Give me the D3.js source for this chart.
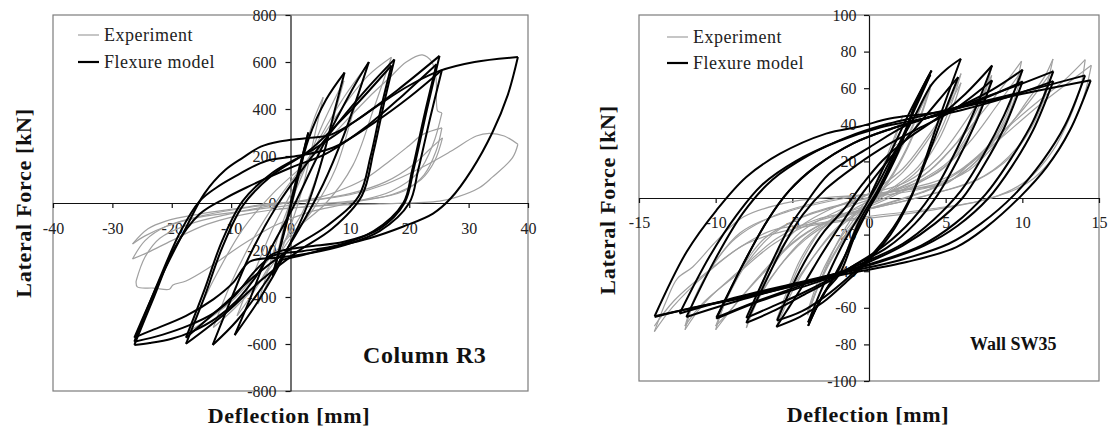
<!DOCTYPE html>
<html><head><meta charset="utf-8">
<script src="https://cdn.jsdelivr.net/npm/d3@7"></script>
<style>html,body{margin:0;padding:0;background:#fff;} svg{display:block;}</style>
</head><body>
<svg id="chart" width="1109" height="427"></svg>
<script>
// ---------------- DATA ----------------
// Column R3 : tick values
const r3XTicks = [-40,-30,-20,-10,0,10,20,30,40];
const r3YTicks = [-800,-600,-400,-200,0,200,400,600,800];
// Column R3 : flexure model branches [deflection mm, force kN]
const r3Model = [
  [[0,0],[1.5,150],[3,300]],
  [[3,300],[1.5,140],[0,-10],[-1.5,-160],[-3,-310]],
  [[-3,-310],[-1,-120],[1,80],[3,270],[6,440],[9.1,555]],
  [[9.1,555],[7.5,400],[5.5,200],[3,0],[-1,-220],[-5,-400],[-9.4,-562]],
  [[-9.4,-562],[-7,-420],[-4,-230],[0.4,-20],[4,170],[8,370],[11,510],[13.2,600]],
  [[13.2,600],[11.5,470],[9,290],[5.5,80],[1,-130],[-4,-330],[-9,-500],[-13.1,-604]],
  [[-13.1,-604],[-10.5,-440],[-7,-230],[-2.5,-20],[2.5,160],[8,340],[13,490],[17.5,611]],
  [[17.5,611],[15.8,430],[14,220],[12,30],[7,-110],[1,-210],[-5,-330],[-11,-470],[-17.6,-599]],
  [[-17.6,-599],[-14.5,-400],[-11.5,-190],[-8,-10],[-3,120],[3,220],[10,390],[17,585]],
  [[17,585],[15.3,410],[13.5,200],[11.5,30],[6,-100],[0,-195],[-6,-310],[-12,-450],[-17.6,-573]],
  [[-17.6,-573],[-14.5,-370],[-11.5,-160],[-8,10],[-3,130],[4,230],[11,350],[18,480],[25.1,626]],
  [[25.1,626],[23,400],[20.8,150],[19.2,0],[15,-110],[9,-165],[3,-185],[-1,-200],[-3.5,-225],[-6,-320],[-9.1,-417],[-12.5,-490],[-16.4,-545],[-20,-578],[-23.7,-596],[-26.3,-604]],
  [[-26.3,-604],[-23,-400],[-19.5,-190],[-15.3,-47],[-11,20],[-7.5,65],[0,150],[6,210],[13,330],[19,460],[24.6,590]],
  [[24.6,590],[22.6,380],[20.5,140],[19,0],[14,-120],[8,-180],[2,-205],[-3,-225],[-6,-290],[-9.4,-395],[-13,-470],[-17,-520],[-21.5,-560],[-26.3,-590]],
  [[-26.3,-590],[-22.5,-350],[-18.5,-120],[-15.3,8],[-12.5,65],[-9.7,108],[-4.1,179],[1,200],[7.1,235],[14,340],[20,450],[25.5,566]],
  [[25.5,566],[23.5,360],[21.5,140],[20,0],[15,-120],[9,-180],[3,-215],[-2,-232],[-6.9,-250],[-9.7,-340],[-13,-410],[-17.6,-480],[-23.7,-545],[-26.3,-573]],
  [[-26.3,-573],[-21.5,-300],[-17.5,-100],[-14.5,40],[-11,140],[-8,193],[-5,240],[-1.85,262],[2.6,276],[6.7,290],[11,350],[15,420],[20,500],[25.1,562],[31,600],[38.3,621]],
  [[38.3,621],[36.6,460],[34,300],[30.5,140],[27,20],[24,-45],[19,-100],[13.3,-150],[6,-195],[1,-228],[-1.85,-244]]
];
// Column R3 : experiment branches
const r3Test = [
  [[0,0],[1.5,160],[3,290]],
  [[3,290],[1.5,120],[0,-30],[-1.5,-160],[-3,-300]],
  [[-3,-300],[-1.5,-140],[0,10],[2,200],[4,360],[5.5,450]],
  [[5.5,450],[4,280],[2,60],[0,-100],[-2.5,-260],[-5.5,-430]],
  [[-5.5,-430],[-3.5,-260],[-1,-60],[2,120],[5.5,340],[9,520]],
  [[9,520],[7,340],[4.5,120],[2,-40],[-2,-200],[-6,-370],[-9,-480]],
  [[-9,-480],[-6.5,-320],[-3,-110],[0.5,60],[5,280],[9,450],[13,590]],
  [[13,590],[10.5,380],[7.5,140],[4,-20],[0,-150],[-5,-330],[-9.5,-450],[-13,-530]],
  [[-13,-530],[-10,-340],[-6,-140],[-2,20],[3,190],[8,380],[13,540],[17,620]],
  [[17,620],[14,400],[10.5,160],[6,0],[1,-110],[-4,-250],[-10,-420],[-17,-545]],
  [[-17,-545],[-13,-330],[-8,-110],[-3,40],[3,180],[9,340],[14,470],[16.7,533],[19.5,600],[22.2,630],[23.8,600],[24.5,533],[24.6,420],[24.8,391],[25.5,384]],
  [[25.5,384],[24,250],[21.5,130],[17,50],[10,0],[3,-40],[-3,-100],[-7,-160],[-9.7,-204],[-14,-280],[-17.6,-332],[-19.8,-349],[-20.4,-367],[-23,-362],[-25.8,-357],[-26,-332]],
  [[-26,-332],[-24.5,-230],[-22,-150],[-17,-90],[-10,-45],[-2,-5],[5,25],[9.4,65],[13,110],[16.7,179],[20,245],[22.3,292],[25.5,320]],
  [[25.5,320],[24.5,220],[22.5,120],[19,50],[12,10],[3,-15],[-6,-40],[-14,-90],[-20,-160],[-24,-210],[-26.6,-238]],
  [[-26.6,-238],[-24.5,-160],[-21,-100],[-15,-55],[-6,-15],[3,10],[10,40],[16,90],[20.5,160],[23.5,230],[25.6,277]],
  [[25.6,277],[24.3,180],[22,100],[17,35],[9,5],[0,-10],[-8,-35],[-15.3,-60],[-21,-100],[-24.5,-140],[-26.6,-174]],
  [[-26.6,-174],[-24,-110],[-21,-77],[-15.3,-47],[-8,-20],[-4.1,-4],[3,10],[10,35],[16,80],[22,150],[27,220],[31.3,285],[33.5,296],[36,285],[38.3,250]],
  [[38.3,250],[37.4,193],[34,110],[31.8,65],[28,25],[25.1,8],[15,-4],[5,-12],[-2,-25]]
];

// Wall SW35 : tick values
const swXTicks = [-15,-10,-5,0,5,10,15];
const swYTicks = [-100,-80,-60,-40,-20,0,20,40,60,80,100];
// Wall SW35 : flexure model branches
const swModel = [
  [[0,0],[0.8,14],[1.7,30],[2.6,46],[3.4,59],[4.08,69.7]],
  [[4.08,69.7],[3.1,53.3],[2,27.8],[0.7,6],[-0.6,-12.2],[-1.9,-38],[-2.8,-50.4],[-3.4,-59.5],[-3.97,-69.9]],
  [[-3.97,-69.9],[-3.2,-55.9],[-2.3,-43.1],[-1.5,-30.4],[-0.4,-12],[0.8,8],[1.9,28],[2.9,47],[3.5,58],[4.0,67.5]],
  [[4.0,67.5],[3.0,50],[1.9,25],[0.6,3],[-0.7,-16],[-1.9,-41.3],[-2.8,-50.4],[-3.4,-59.5],[-3.97,-68]],
  [[-3.97,-68],[-3.2,-52],[-2.4,-37],[-1.5,-22],[-0.5,-8],[0.6,8],[1.8,27],[3,45],[4.08,62],[5,70],[5.99,76.1]],
  [[5.99,76.1],[4.6,44],[3.5,17],[2.66,-1.3],[1.4,-20],[0,-34],[-1.5,-46],[-3,-57],[-4.5,-65],[-6.04,-70.4]],
  [[-6.04,-70.4],[-5.2,-59.5],[-4.1,-44.9],[-3.2,-32.2],[-1.8,-14],[-0.3,4],[1.2,20],[2.6,34],[3.8,46],[4.8,56],[5.82,66.1]],
  [[5.82,66.1],[4.7,42],[3.7,20],[2.8,2],[1.6,-16],[0.2,-31],[-1.3,-43],[-2.9,-54],[-4.4,-62],[-6,-67]],
  [[-6,-67],[-5,-48],[-4,-32],[-2.9,-18],[-1.7,-6.8],[-0.4,7.8],[0.9,20.6],[2.66,33.3],[4.5,44],[6.3,57],[8.03,72.4]],
  [[8.03,72.4],[7,50],[5.8,28],[4.4,6],[2.8,-12],[1,-26],[-1,-37],[-2.5,-45],[-4.5,-54],[-6.3,-62],[-8,-68.2]],
  [[-8,-68.2],[-6.7,-45],[-5.5,-25],[-4.3,-9],[-2.8,5],[-0.8,18],[1.2,29],[3,37],[5.5,48],[8.03,64.3]],
  [[8.03,64.3],[7,42],[5.8,21],[4.5,2],[3,-14],[1.2,-27],[-1,-37],[-2.7,-45],[-4.6,-53],[-6.5,-60],[-8,-65.5]],
  [[-8,-65.5],[-6.5,-38],[-5.2,-16],[-4.3,-5],[-2.6,13.3],[0.05,27.8],[2.66,40.6],[5,47],[8,59],[10.02,70.1]],
  [[10.02,70.1],[8.8,45],[7.5,24],[6,4],[4.2,-12],[2.2,-25],[0,-34],[-2,-41],[-4.5,-48],[-7.5,-57],[-9.95,-65.3]],
  [[-9.95,-65.3],[-8.2,-36],[-6.6,-12],[-5.2,4],[-3.5,17],[-1,30],[1.5,38],[3.5,43],[6.5,51],[10.02,63.7]],
  [[10.02,63.7],[8.8,38],[7.5,18],[6.1,0],[4.3,-14],[2.2,-26],[0,-35],[-2,-42],[-4.5,-49],[-7.5,-57.5],[-9.95,-65.9]],
  [[-9.95,-65.9],[-8.2,-36],[-6.6,-12],[-5.2,4],[-3.5,17],[-1,30],[1.5,38],[3.5,43],[6.5,52],[9.5,61],[12.02,69.2]],
  [[12.02,69.2],[10.7,42],[9.3,22],[7.6,2],[5.6,-14],[3.4,-26],[0.5,-35],[-2,-41],[-5,-47],[-8.5,-54],[-12.35,-63.1]],
  [[-12.35,-63.1],[-10.4,-32],[-8.6,-9],[-7,7],[-4.8,20],[-2,31],[0.5,38],[2.7,42],[6,48],[9,55],[12.02,63.9]],
  [[12.02,63.9],[10.7,37],[9.3,17],[7.8,0],[5.8,-15],[3.6,-26],[0.7,-35],[-2,-41],[-5,-48],[-8.5,-56],[-11.91,-65]],
  [[-11.91,-65],[-10,-33],[-8.2,-8],[-6.3,10],[-4,23],[-1.5,33],[1,40],[3,44],[6,50],[10,58],[14.09,67]],
  [[14.09,67],[12.8,40],[11.3,20],[9.5,2],[7.3,-14],[5.2,-25],[2,-34],[-2,-41.5],[-5.5,-48.5],[-9,-55.5],[-12,-61],[-13.98,-64.6]],
  [[-13.98,-64.6],[-11.9,-29.5],[-9.95,-6.7],[-8,11.5],[-5.8,24.2],[-2.8,35.2],[-0.6,39.1],[1.36,43.4],[4.6,47],[8.97,55.1],[14.46,64.3]],
  [[14.46,64.3],[13.1,37],[11.6,17],[9.84,0.5],[7.67,-15.8],[5.7,-26.8],[2.45,-35],[-1.9,-42.2],[-5.2,-48.6],[-8.4,-54.9],[-11.7,-60.4],[-13.98,-65]]
];
// Wall SW35 : experiment branches
const swTest = [
  [[0,0],[0.8,15],[1.5,30],[2.2,45]],
  [[2.2,45],[1.6,30],[0.9,12],[0,-3],[-0.8,-17],[-1.5,-31],[-2.2,-45]],
  [[-2.2,-45],[-1.5,-30],[-0.7,-12],[0,0],[0.8,15],[1.6,28],[2.4,32],[3.3,48],[4,62]],
  [[4,62],[3.4,46],[2.5,28],[1.3,10],[0,-4],[-1.2,-16],[-2.4,-32],[-3.3,-48],[-4,-64]],
  [[-4,-64],[-3.3,-48],[-2.4,-30],[-1.2,-12],[0,0],[1.2,14],[2.4,32],[3.3,48],[4,60]],
  [[4,60],[3.4,45],[2.5,27],[1.3,9],[0,-5],[-1.2,-17],[-2.4,-33],[-3.3,-48],[-4,-62]],
  [[-4,-62],[-3.3,-45],[-2.3,-28],[-1,-12],[0.5,2],[2.2,14],[3.7,30],[5,48],[6,68]],
  [[6,68],[5.4,52],[4.5,34],[3.2,17],[1.3,4],[-0.5,-6],[-2.2,-17],[-3.7,-33],[-5,-51],[-6,-70]],
  [[-6,-70],[-5.3,-52],[-4.3,-33],[-3,-16],[-1.3,-4],[0.5,5],[2.2,16],[3.7,32],[5,48],[6,63]],
  [[6,63],[5.4,48],[4.5,31],[3.2,15],[1.3,3],[-0.5,-7],[-2.2,-18],[-3.7,-33],[-5,-49],[-6,-66]],
  [[-6,-66],[-5.3,-50],[-4.5,-34],[-3.2,-18],[-1,-6],[1.5,4],[3.5,12],[5.3,26],[6.8,44],[7.5,57],[8,72]],
  [[8,72],[7.5,55],[6.6,37],[5.2,20],[3,8],[0.5,-2],[-2,-10],[-4.2,-22],[-5.9,-38],[-7.2,-55],[-8,-71]],
  [[-8,-71],[-7.3,-53],[-6.2,-33],[-4.7,-17],[-2.5,-6],[0,2],[2.5,9],[4.5,22],[6.3,42],[7.3,55],[8,67]],
  [[8,67],[7.5,52],[6.6,35],[5.2,19],[3,7],[0.5,-3],[-2,-11],[-4.2,-23],[-5.9,-38],[-7.2,-54],[-8,-68]],
  [[-8,-68],[-7.2,-52],[-6,-34],[-4.5,-19],[-2,-7],[1,2],[3.5,12],[5.5,28],[7.5,48],[9,64],[9.95,74.8]],
  [[9.95,74.8],[9.6,62],[9,46],[7.8,28],[6,13],[3.5,3],[0,-6],[-3,-14],[-5,-25],[-7,-42],[-8.7,-58],[-10,-72]],
  [[-10,-72],[-9.3,-55],[-8.2,-37],[-6.8,-22],[-4.5,-11],[-1,-2],[2,5],[4.5,14],[6.5,30],[8.3,50],[10,70]],
  [[10,70],[9.6,57],[8.9,42],[7.6,25],[5.6,11],[3,2],[-0.5,-7],[-3.5,-16],[-5.5,-28],[-7.4,-45],[-8.9,-60],[-10,-70]],
  [[-10,-70],[-9.2,-54],[-8,-36],[-6.3,-20],[-4,-9],[0,0],[4,6],[6.5,15],[8.5,32],[10.4,54],[11.5,67],[12,76]],
  [[12,76],[11.6,62],[10.9,45],[9.6,27],[7.5,12],[4.5,3],[0,-6],[-3.5,-12],[-6,-22],[-8.5,-40],[-10.8,-58],[-12,-72]],
  [[-12,-72],[-11.3,-54],[-10.1,-36],[-8.4,-19],[-5.5,-8],[-1.5,0],[2.5,5],[5.5,13],[8,30],[10.2,50],[12,70]],
  [[12,70],[11.5,56],[10.7,40],[9.3,23],[7.1,10],[4,2],[0,-6],[-3.5,-13],[-6.2,-25],[-8.8,-43],[-10.9,-58],[-12,-70]],
  [[-12,-70],[-11.4,-55],[-10.3,-38],[-8.7,-22],[-6,-9],[-2,0],[2,4],[4.5,8],[6.5,18],[7.9,29.7],[9.5,42],[11.1,53.3],[12.7,64],[14.1,75.6]],
  [[14.1,75.6],[13.8,60.6],[13.1,44],[12,26],[10.3,9.7],[8,0],[4,-6],[0,-10],[-3.5,-14],[-6.3,-17.6],[-8.4,-26.8],[-10.6,-41.3],[-12.8,-59.5],[-14,-73]],
  [[-14,-73],[-13.2,-55.9],[-12.5,-44],[-11.5,-37.7],[-10,-24],[-8.2,-10.4],[-5,-2],[0,2],[3,5],[5.06,8],[6.5,18],[8.5,32],[11,50],[13,63],[14.5,72.5]],
  [[14.5,72.5],[14.1,58],[13.4,42],[12.2,24],[10.3,8],[7.5,-1],[3,-8],[-1,-12],[-5,-17],[-8,-25],[-10.5,-40],[-12.7,-56],[-14,-70]]
];

// ---------------- DRAW ----------------
const SERIF = '"Liberation Serif","Times New Roman",serif';
const svg = d3.select('#chart');

function drawPanel(p) {
  const x = d3.scaleLinear().domain(p.xDomain).range([p.left, p.right]);
  const y = d3.scaleLinear().domain(p.yDomain).range([p.bottom, p.top]);
  const g = svg.append('g');

  g.append('rect')
    .attr('x', p.left).attr('y', p.top)
    .attr('width', p.right - p.left).attr('height', p.bottom - p.top)
    .attr('fill', 'none').attr('stroke', '#7c7c7c').attr('stroke-width', 1.2);

  const xa = g.append('g').attr('transform', `translate(0,${y(0)})`)
    .call(d3.axisBottom(x).tickValues(p.xTicks).tickSize(5).tickSizeOuter(0)
      .tickPadding(p.xPad).tickFormat(d => String(d)));
  const ya = g.append('g').attr('transform', `translate(${x(0)},0)`)
    .call(d3.axisLeft(y).tickValues(p.yTicks).tickSize(5).tickSizeOuter(0)
      .tickPadding(p.yPad).tickFormat(d => String(d)));
  [xa, ya].forEach(a => {
    a.attr('font-family', SERIF).attr('font-size', 16);
    a.selectAll('text').attr('fill', '#222');
    a.selectAll('line,path').attr('stroke', '#111').attr('stroke-width', 1.2);
  });

  const line = d3.line().x(d => x(d[0])).y(d => y(d[1]))
    .curve(d3.curveCatmullRom.alpha(0.5));

  g.append('g').selectAll('path').data(p.test).join('path')
    .attr('d', line).attr('fill', 'none')
    .attr('stroke', '#a0a0a0').attr('stroke-width', 1.2);
  g.append('g').selectAll('path').data(p.model).join('path')
    .attr('d', line).attr('fill', 'none')
    .attr('stroke', '#000').attr('stroke-width', 2)
    .attr('stroke-linejoin', 'round');

  // legend
  const lg = g.append('g');
  const items = [
    {label: 'Experiment', color: '#a0a0a0', w: 1.2, ly: p.legY[0]},
    {label: 'Flexure model', color: '#000', w: 2.2, ly: p.legY[1]}
  ];
  items.forEach(it => {
    lg.append('line').attr('x1', p.legX).attr('x2', p.legX + 21)
      .attr('y1', it.ly).attr('y2', it.ly)
      .attr('stroke', it.color).attr('stroke-width', it.w);
    lg.append('text').attr('x', p.legX + 26).attr('y', it.ly + 6)
      .attr('font-family', SERIF).attr('font-size', 18)
      .attr('letter-spacing', '0.5px').attr('fill', '#222').text(it.label);
  });

  // axis titles
  g.append('text').attr('x', p.xTitle[0]).attr('y', p.xTitle[1])
    .attr('text-anchor', 'middle').attr('font-family', SERIF)
    .attr('font-weight', 'bold').attr('font-size', 22)
    .attr('letter-spacing', '0.7px').attr('fill', '#111')
    .text('Deflection [mm]');
  g.append('text')
    .attr('transform', `translate(${p.yTitle[0]},${p.yTitle[1]}) rotate(-90)`)
    .attr('text-anchor', 'middle').attr('font-family', SERIF)
    .attr('font-weight', 'bold').attr('font-size', 22)
    .attr('letter-spacing', '0.7px').attr('fill', '#111')
    .text('Lateral Force [kN]');

  // panel label
  g.append('text').attr('x', p.tag[0]).attr('y', p.tag[1])
    .attr('font-family', SERIF).attr('font-weight', 'bold')
    .attr('font-size', p.tagSize).attr('letter-spacing', p.tagSpacing)
    .attr('fill', '#111').text(p.tagText);
}

drawPanel({
  xDomain: [-40, 40], yDomain: [-800, 800],
  left: 53, right: 528, top: 15, bottom: 391,
  xTicks: r3XTicks, yTicks: r3YTicks, xPad: 15, yPad: 9,
  test: r3Test, model: r3Model,
  legX: 78, legY: [35, 62],
  xTitle: [289, 423], yTitle: [31, 203],
  tag: [363, 363], tagText: 'Column R3', tagSize: 24, tagSpacing: '0.6px'
});

drawPanel({
  xDomain: [-15, 15], yDomain: [-100, 100],
  left: 639, right: 1099, top: 15, bottom: 381,
  xTicks: swXTicks, yTicks: swYTicks, xPad: 14, yPad: 7.5,
  test: swTest, model: swModel,
  legX: 667, legY: [37, 63],
  xTitle: [868, 422], yTitle: [615, 200],
  tag: [970, 350], tagText: 'Wall SW35', tagSize: 18, tagSpacing: '0px'
});
</script>
</body></html>
